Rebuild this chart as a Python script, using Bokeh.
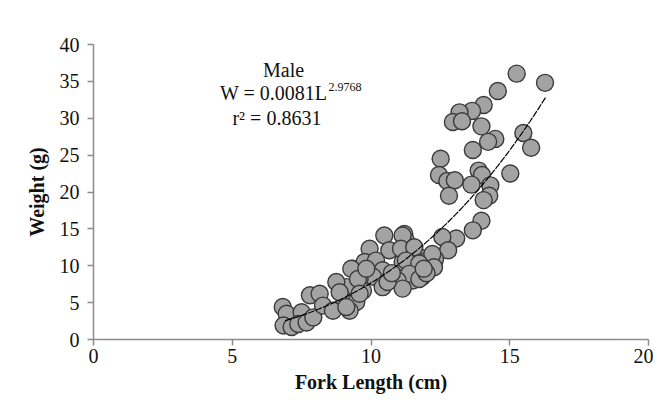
from bokeh.plotting import figure
from bokeh.models import Range1d, Label, FixedTicker, ColumnDataSource
from bokeh.embed import file_html
from bokeh.resources import INLINE
import numpy as np

# Fork length (cm) and weight (g) of male fish
fork_length = [
    15.25, 16.27, 14.57, 14.06, 13.64, 13.19, 12.95, 13.28, 13.98, 14.48,
    14.22, 15.49, 15.77, 13.67, 12.51, 12.45, 12.75, 13.02, 13.88, 14.00,
    15.02, 13.62, 14.30, 12.81, 14.26, 14.06,
    13.98, 13.67, 13.07, 12.57, 12.78, 12.31, 11.20, 11.26, 11.38, 11.74,
    12.03, 12.09, 11.38, 11.14, 11.85, 11.50,
    10.48, 11.14, 9.95, 10.66, 11.08, 11.56, 12.21, 12.27, 9.35, 9.77,
    10.18, 10.42, 11.26, 11.74, 11.38, 10.96, 11.14, 11.74, 10.07, 10.42,
    9.59, 9.71, 9.11, 9.05, 9.47, 9.23,
    6.82, 6.96, 6.85, 7.14, 7.50, 7.38, 7.68, 7.92, 7.80, 8.15,
    8.27, 8.63, 8.75, 8.87, 9.11, 9.29, 9.53, 9.59, 9.83,
    10.60, 10.75, 12.00, 11.90,
]
weight = [
    36.05, 34.8, 33.7, 31.8, 31.0, 30.8, 29.5, 29.6, 28.9, 27.2,
    26.8, 28.0, 26.0, 25.7, 24.5, 22.3, 21.5, 21.6, 22.9, 22.3,
    22.5, 21.0, 20.9, 19.5, 19.5, 18.9,
    16.1, 14.8, 13.7, 13.9, 12.1, 10.9, 14.3, 13.4, 12.1, 11.2,
    10.7, 9.6, 10.0, 10.5, 8.5, 8.0,
    14.1, 14.1, 12.3, 12.1, 12.3, 12.5, 11.6, 9.8, 9.6, 10.5,
    10.7, 9.4, 10.7, 10.3, 8.9, 8.0, 6.9, 8.2, 8.5, 7.1,
    8.2, 6.6, 7.1, 5.3, 5.1, 3.9,
    4.4, 3.5, 1.9, 1.7, 3.7, 2.1, 2.3, 3.0, 6.0, 6.2,
    4.6, 3.9, 7.8, 6.4, 4.4, 9.6, 8.2, 6.2, 9.6,
    7.8, 9.0, 9.0, 9.6,
]

# Power trend line shown on the chart: W = a * L^b
trend_a = 0.0081
trend_b = 2.9768
trend_range = [6.9, 16.3]

x_ticks = [0, 5, 10, 15, 20]
y_ticks = [0, 5, 10, 15, 20, 25, 30, 35, 40]

title_text = "Male"
eq_text = "W = 0.0081L"
eq_exp = "2.9768"
r2_text = "r\u00b2 = 0.8631"

FONT = "Liberation Serif"

p = figure(width=653, height=398, output_backend="svg", toolbar_location=None,
           x_range=Range1d(0, 20), y_range=Range1d(0, 40),
           min_border_left=93, min_border_right=5, min_border_top=44,
           min_border_bottom=59)
p.outline_line_color = None
p.grid.grid_line_color = None
p.background_fill_color = "white"
p.border_fill_color = "white"

for ax in (p.xaxis[0], p.yaxis[0]):
    ax.axis_line_color = "#8c8c8c"
    ax.axis_line_width = 1.5
    ax.major_tick_line_color = "#8c8c8c"
    ax.major_tick_line_width = 1.5
    ax.major_tick_in = 0
    ax.major_tick_out = 6
    ax.minor_tick_line_color = None
    ax.major_label_text_font = FONT
    ax.major_label_text_font_size = "20px"
    ax.major_label_text_color = "#111111"
    ax.axis_label_text_font = FONT
    ax.axis_label_text_font_style = "bold"
    ax.axis_label_text_font_size = "20px"
    ax.axis_label_text_color = "#111111"

p.xaxis.ticker = FixedTicker(ticks=x_ticks)
p.yaxis.ticker = FixedTicker(ticks=y_ticks)
p.xaxis.axis_label = "Fork Length (cm)"
p.yaxis.axis_label = "Weight (g)"
p.xaxis.major_label_standoff = 3
p.yaxis.major_label_standoff = 8
p.xaxis.axis_label_standoff = 5
p.yaxis.axis_label_standoff = 9

src = ColumnDataSource(dict(x=fork_length, y=weight))
p.scatter("x", "y", source=src, size=17, marker="circle",
          fill_color="#a3a3a3", line_color="#3a3a3a", line_width=1.4)

tx = np.linspace(trend_range[0], trend_range[1], 200)
ty = trend_a * tx ** trend_b
p.line(tx, ty, line_color="black", line_width=1.2, line_dash="7 1")

p.add_layout(Label(x=6.85, y=36.6, text=title_text, text_align="center",
                   text_baseline="alphabetic", text_font=FONT,
                   text_font_size="20px", text_color="#111111"))
p.add_layout(Label(x=8.43, y=33.36, text=eq_text, text_align="right",
                   text_baseline="alphabetic", text_font=FONT,
                   text_font_size="20px", text_color="#111111"))
p.add_layout(Label(x=8.47, y=34.17, text=eq_exp, text_align="left",
                   text_baseline="alphabetic", text_font=FONT,
                   text_font_size="12px", text_color="#111111"))
p.add_layout(Label(x=6.61, y=30.1, text=r2_text, text_align="center",
                   text_baseline="alphabetic", text_font=FONT,
                   text_font_size="20px", text_color="#111111"))

open("out.html", "w").write(file_html(p, INLINE))
